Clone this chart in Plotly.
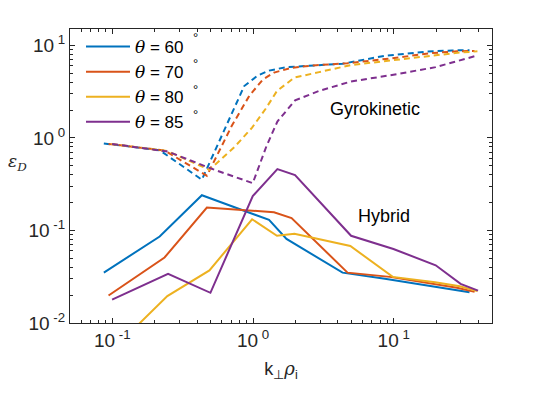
import plotly.graph_objects as go

# Hybrid (solid) and gyrokinetic (dashed) results, one pair per angle
thetas = [60, 70, 80, 85]
colors = ['#0072BD', '#D95319', '#EDB120', '#7E2F8E']

k_hyb_60 = [0.087, 0.217, 0.433, 0.866, 1.30, 1.73, 4.33, 8.66, 17.3, 26.0, 34.6]
eps_hyb_60 = [0.035, 0.086, 0.24, 0.165, 0.13, 0.081, 0.035, 0.030, 0.0254, 0.023, 0.0215]
k_hyb_70 = [0.094, 0.235, 0.47, 0.94, 1.41, 1.88, 4.70, 9.40, 18.8, 28.2, 37.6]
eps_hyb_70 = [0.0198, 0.051, 0.177, 0.164, 0.157, 0.136, 0.035, 0.0315, 0.0265, 0.024, 0.0217]
k_hyb_80 = [0.0985, 0.246, 0.49, 0.985, 1.48, 1.97, 4.92, 9.85, 19.7, 29.5, 39.4]
eps_hyb_80 = [0.005, 0.0195, 0.037, 0.132, 0.0875, 0.092, 0.068, 0.0315, 0.0276, 0.0249, 0.0221]
k_hyb_85 = [0.0996, 0.249, 0.498, 0.996, 1.49, 1.99, 4.98, 9.96, 19.9, 29.9, 39.8]
eps_hyb_85 = [0.0179, 0.034, 0.0212, 0.235, 0.459, 0.396, 0.0875, 0.063, 0.042, 0.0265, 0.0224]

k_gk_60 = [0.087, 0.217, 0.433, 0.65, 0.866, 1.08, 1.30, 1.73, 2.6, 4.33, 8.66, 17.3, 26.0, 34.6]
eps_gk_60 = [0.87, 0.736, 0.353, 1.4, 3.63, 4.71, 5.33, 5.81, 6.0, 6.32, 7.7, 8.56, 8.8, 8.85]
k_gk_70 = [0.094, 0.235, 0.47, 0.705, 0.94, 1.175, 1.41, 1.88, 2.82, 4.70, 9.40, 18.8, 28.2, 37.6]
eps_gk_70 = [0.86, 0.73, 0.39, 1.34, 2.84, 4.27, 5.07, 5.71, 6.1, 6.4, 7.2, 8.25, 8.6, 8.7]
k_gk_80 = [0.0985, 0.246, 0.49, 0.74, 0.985, 1.23, 1.48, 1.97, 2.95, 4.92, 9.85, 19.7, 29.5, 39.4]
eps_gk_80 = [0.86, 0.72, 0.452, 0.80, 1.29, 2.06, 3.21, 4.48, 5.13, 6.1, 6.9, 7.8, 8.35, 8.6]
k_gk_85 = [0.0996, 0.249, 0.498, 0.747, 0.996, 1.245, 1.49, 1.99, 2.99, 4.98, 9.96, 19.9, 29.9, 39.8]
eps_gk_85 = [0.86, 0.71, 0.469, 0.376, 0.324, 0.81, 1.5, 2.54, 3.24, 4.06, 4.81, 5.81, 6.9, 7.8]

hybrid = [(k_hyb_60, eps_hyb_60), (k_hyb_70, eps_hyb_70),
          (k_hyb_80, eps_hyb_80), (k_hyb_85, eps_hyb_85)]
gyro = [(k_gk_60, eps_gk_60), (k_gk_70, eps_gk_70),
        (k_gk_80, eps_gk_80), (k_gk_85, eps_gk_85)]

major_vals = [0.01, 0.1, 1, 10]
major_text = ['10<sup> -2</sup>', '10<sup> -1</sup>', '10<sup> 0</sup>', '10<sup> 1</sup>']
minor_vals = [m * d for d in [0.01, 0.1, 1, 10] for m in range(2, 10)]

AXIS_COLOR = '#262626'
SERIF = 'DejaVu Serif, Liberation Serif, serif'

# The page body adds an 8px offset, so the figure is drawn 16px smaller
# and the margins are trimmed to keep the axes where they belong.
W, H = 529, 379
PLOT_L, PLOT_T, PLOT_W, PLOT_H = 62, 21, 422, 296


def px_x(x):
    """Window pixel x -> paper coordinate."""
    return (x - 8 - PLOT_L) / PLOT_W


def px_y(y):
    """Window pixel y -> paper coordinate."""
    return 1 - (y - 8 - PLOT_T) / PLOT_H


fig = go.Figure()

for theta, color, (x, y) in zip(thetas, colors, hybrid):
    fig.add_trace(go.Scatter(
        x=x, y=y, mode='lines',
        line=dict(color=color, width=2),
        name=f'<span style="font-family:{SERIF}"><i>θ</i></span> = {theta}',
    ))

for color, (x, y) in zip(colors, gyro):
    fig.add_trace(go.Scatter(
        x=x, y=y, mode='lines',
        line=dict(color=color, width=2, dash='6px,4px'),
        showlegend=False,
    ))

axis_common = dict(
    type='log',
    showline=True,
    linecolor=AXIS_COLOR,
    linewidth=1,
    mirror='allticks',
    ticks='inside',
    ticklen=5,
    tickcolor=AXIS_COLOR,
    tickmode='array',
    tickvals=major_vals,
    ticktext=major_text,
    tickfont=dict(family='Liberation Sans, Arial, sans-serif', size=19, color=AXIS_COLOR),
    showgrid=False,
    zeroline=False,
    minor=dict(ticks='inside', ticklen=3, tickcolor=AXIS_COLOR,
               tickmode='array', tickvals=minor_vals, showgrid=False),
)

fig.update_layout(
    width=W,
    height=H,
    paper_bgcolor='white',
    plot_bgcolor='white',
    margin=dict(l=PLOT_L, r=W - PLOT_L - PLOT_W, t=PLOT_T, b=H - PLOT_T - PLOT_H),
    font=dict(family='Liberation Sans, Arial, sans-serif', color='black'),
    xaxis=dict(
        axis_common,
        range=[-1.301, 1.699],
        title=dict(text='k<sub>⊥</sub><span style="font-family:DejaVu Serif"><i>ρ</i></span><sub>i</sub>',
                   font=dict(size=18, color=AXIS_COLOR), standoff=12),
    ),
    yaxis=dict(axis_common, range=[-2, 1.176]),
    legend=dict(
        x=px_x(81), xanchor='left', y=px_y(29), yanchor='top',
        bgcolor='rgba(0,0,0,0)',
        font=dict(size=17, color='black'),
        itemwidth=44,
    ),
    showlegend=True,
)

# Degree marks that sit apart from the legend labels
for i in range(4):
    fig.add_annotation(
        x=px_x(191), y=px_y(28 + 26 * i),
        xref='paper', yref='paper', text='°', showarrow=False,
        font=dict(size=13, color='black'),
    )

fig.add_annotation(x=0.532, y=0.314, xref='x', yref='y', text='Gyrokinetic',
                   xanchor='left', showarrow=False, font=dict(size=18, color='black'))
fig.add_annotation(x=0.730, y=-0.847, xref='x', yref='y', text='Hybrid',
                   xanchor='left', showarrow=False, font=dict(size=18, color='black'))

# Horizontal y-axis label
fig.add_annotation(
    x=px_x(6), y=px_y(163), xref='paper', yref='paper', xanchor='left',
    text=f'<span style="font-family:{SERIF}"><i>ε</i><sub><i>D</i></sub></span>',
    showarrow=False, font=dict(size=17, color=AXIS_COLOR),
)

fig.write_html('out.html')
